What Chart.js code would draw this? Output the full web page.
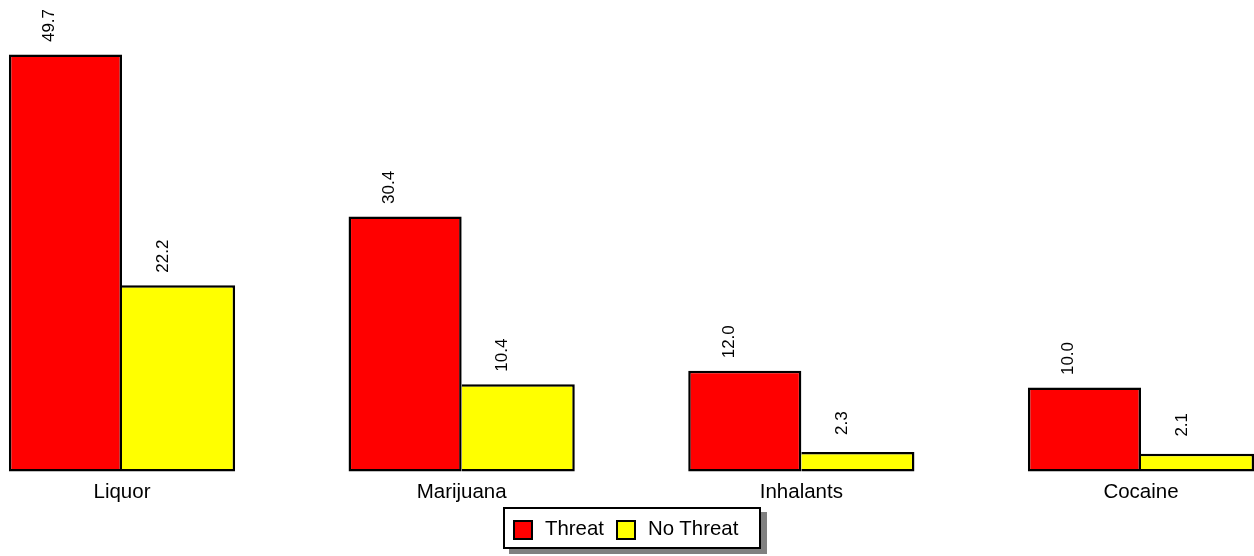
<!DOCTYPE html>
<html>
<head>
<meta charset="utf-8">
<script src="https://cdn.jsdelivr.net/npm/chart.js@4/dist/chart.umd.min.js"></script>
<style>
  html, body { margin: 0; padding: 0; background: #ffffff; }
  #wrap { position: relative; width: 1254px; height: 556px; }
  #legend {
    position: absolute; left: 503px; top: 507px; width: 254px; height: 38px;
    border: 2px solid #000; background: #fff; box-shadow: 6px 5px 0 #808080;
    font-family: "Liberation Sans", Arial, sans-serif; font-size: 20.4px; color: #000;
  }
  .item { position: absolute; top: 0; height: 38px; line-height: 38px; white-space: nowrap; }
  .sw { position: absolute; top: 11px; width: 16px; height: 16px; border: 2px solid #000; }
</style>
</head>
<body>
<div id="wrap">
  <canvas id="c" width="1254" height="556"></canvas>
  <div id="legend"></div>
</div>
<script>
const categories = ["Liquor", "Marijuana", "Inhalants", "Cocaine"];
const seriesNames = ["Threat", "No Threat"];
const threatValues = [49.7, 30.4, 12.0, 10.0];
const noThreatValues = [22.2, 10.4, 2.3, 2.1];
const seriesColors = ["#ff0000", "#ffff00"];

// HTML legend
const legend = document.getElementById('legend');
const legendPos = [{sw: 8, lbl: 40}, {sw: 111, lbl: 143}];
seriesNames.forEach((n, i) => {
  const sw = document.createElement('div');
  sw.className = 'sw';
  sw.style.left = legendPos[i].sw + 'px';
  sw.style.background = seriesColors[i];
  legend.appendChild(sw);
  const t = document.createElement('div');
  t.className = 'item';
  t.style.left = legendPos[i].lbl + 'px';
  t.textContent = n;
  legend.appendChild(t);
});

const valueLabels = {
  id: 'valueLabels',
  afterDatasetsDraw(chart) {
    const ctx = chart.ctx;
    ctx.save();
    ctx.fillStyle = '#000';
    ctx.font = '17px "Liberation Sans", Arial, sans-serif';
    ctx.textAlign = 'center';
    ctx.textBaseline = 'alphabetic';
    chart.data.datasets.forEach((ds, di) => {
      const meta = chart.getDatasetMeta(di);
      meta.data.forEach((bar, i) => {
        ctx.save();
        ctx.translate(bar.x - 11, bar.y - 29);
        ctx.rotate(-Math.PI / 2);
        ctx.fillText(ds.data[i].toFixed(1), 0, 0);
        ctx.restore();
      });
    });
    ctx.restore();
  }
};

new Chart(document.getElementById('c'), {
  type: 'bar',
  data: {
    labels: categories,
    datasets: [
      {
        label: seriesNames[0], data: threatValues, backgroundColor: seriesColors[0],
        borderColor: '#000', borderWidth: 2.5, borderSkipped: false, inflateAmount: 0, clip: false
      },
      {
        label: seriesNames[1], data: noThreatValues, backgroundColor: seriesColors[1],
        borderColor: '#000', borderWidth: {top: 2.5, right: 2.5, bottom: 2.5, left: 0}, borderSkipped: false, inflateAmount: 0, clip: false
      }
    ]
  },
  options: {
    responsive: false,
    animation: false,
    events: [],
    layout: { padding: { left: 122, right: 113, top: 52, bottom: 42 } },
    plugins: { legend: { display: false }, tooltip: { enabled: false } },
    datasets: { bar: { categoryPercentage: 0.666, barPercentage: 1.0 } },
    scales: {
      x: {
        offset: false,
        grid: { display: false, drawTicks: false },
        border: { display: false },
        ticks: { color: '#000', padding: 9, maxRotation: 0, autoSkip: false,
                 font: { family: '"Liberation Sans", Arial, sans-serif', size: 20.5 } }
      },
      y: { display: false, min: 0, max: 50 }
    }
  },
  plugins: [valueLabels]
});
</script>
</body>
</html>
